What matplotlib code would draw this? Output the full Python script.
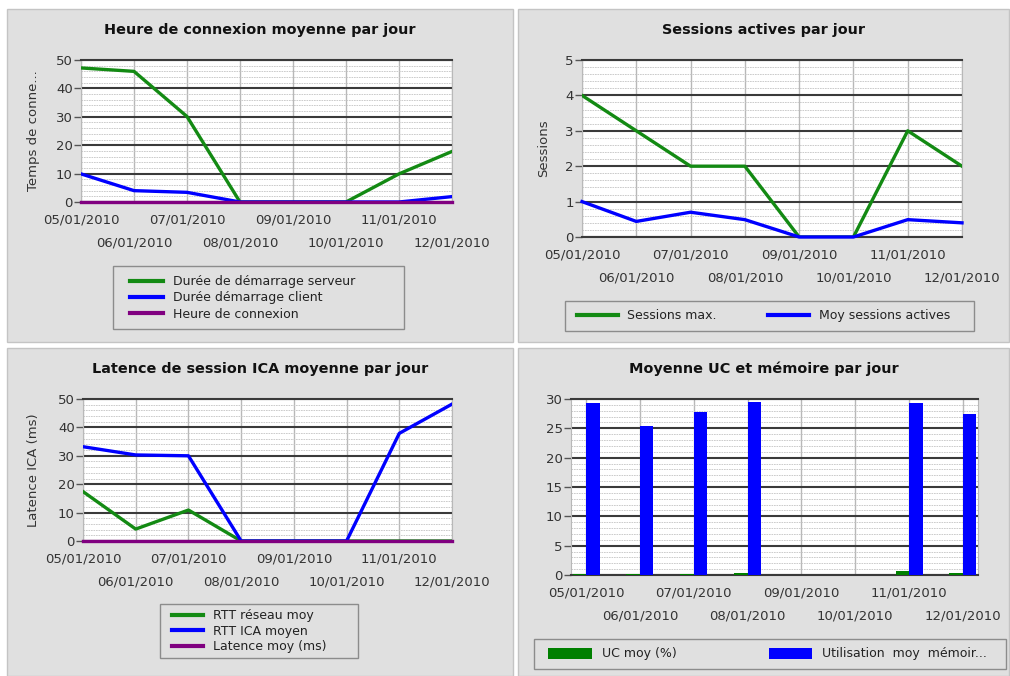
import numpy as np
import matplotlib.pyplot as plt
from matplotlib.patches import Rectangle, Patch
from matplotlib.lines import Line2D
from matplotlib.ticker import MultipleLocator

# %% data

jours = ['05/01/2010', '06/01/2010', '07/01/2010', '08/01/2010',
         '09/01/2010', '10/01/2010', '11/01/2010', '12/01/2010']

# Heure de connexion moyenne par jour
duree_serveur = [47.2, 46.0, 30.1, 0, 0, 0, 9.9, 17.8]
duree_client = [9.9, 4.0, 3.4, 0, 0, 0, 0, 1.9]
heure_connexion = [0, 0, 0, 0, 0, 0, 0, 0]

# Sessions actives par jour
sessions_max = [4, 3, 2, 2, 0, 0, 3, 2]
sessions_moy = [1.0, 0.44, 0.70, 0.49, 0, 0, 0.49, 0.40]

# Latence de session ICA
rtt_reseau = [17.4, 4.2, 10.9, 0, 0, 0, 0, 0]
rtt_ica = [33.2, 30.3, 30.0, 0, 0, 0, 37.9, 48.2]
latence_moy = [0, 0, 0, 0, 0, 0, 0, 0]

# Moyenne UC et memoire
uc_moy = [0.15, 0.2, 0.15, 0.4, 0, 0, 0.7, 0.4]
memoire_moy = [29.4, 25.4, 27.7, 29.5, 0, 0, 29.4, 27.4]

# %% style

W, H = 1010, 676
VERT = '#138a13'
BLEU = '#0000ff'
VIOLET = '#800080'
FOND = '#e0e0e0'
TEXTE = '#333333'

plt.rcParams['font.family'] = 'DejaVu Sans'

fig = plt.figure(figsize=(W / 100, H / 100), dpi=100, facecolor='white')


def px(x0, y0, x1, y1):
    """pixel box (top-left origin) -> figure rect"""
    return [x0 / W, 1 - y1 / H, (x1 - x0) / W, (y1 - y0) / H]


def rect(x0, y0, x1, y1, **kw):
    r = px(x0, y0, x1, y1)
    fig.add_artist(Rectangle((r[0], r[1]), r[2], r[3], transform=fig.transFigure, **kw))


def panneau(x0, y0, x1, y1, titre):
    rect(x0, y0, x1, y1, facecolor=FOND, edgecolor='#c4c4c4', lw=1, zorder=-10)
    fig.text((x0 + x1) / 2 / W, 1 - (y0 + 21) / H, titre, ha='center', va='center',
             fontsize=10.4, fontweight='bold', color='#111111')


def style_axes(ax, box, ymax, major, minor, ylabel=None, ylabel_x=None, xlim=(0, 7)):
    x = np.arange(len(jours))
    ax.set_facecolor('white')
    ax.set_xlim(*xlim)
    ax.set_ylim(0, ymax)
    ax.set_xticks(x[::2])
    ax.set_xticklabels(jours[::2])
    ax.set_xticks(x[1::2], minor=True)
    ax.set_xticklabels(jours[1::2], minor=True)
    ax.tick_params(axis='x', which='major', length=0, pad=8, labelsize=9.5, labelcolor=TEXTE)
    ax.tick_params(axis='x', which='minor', length=0, pad=25, labelsize=9.5, labelcolor=TEXTE)
    ax.yaxis.set_major_locator(MultipleLocator(major))
    ax.yaxis.set_minor_locator(MultipleLocator(minor))
    ax.tick_params(axis='y', which='major', length=5, width=1, color='#555555', pad=1,
                   labelsize=9.5, labelcolor=TEXTE)
    ax.tick_params(axis='y', which='minor', length=0)
    ax.grid(axis='x', which='both', color='#b8b8b8', lw=1)
    ax.grid(axis='y', which='minor', color='#c4c4c4', lw=0.6, ls=(0, (2, 1)))
    ax.grid(axis='y', which='major', color='#3a3a3a', lw=1.5)
    ax.set_axisbelow(True)
    for s in ['left', 'right']:
        ax.spines[s].set_color('#b8b8b8')
    for s in ['top', 'bottom']:
        ax.spines[s].set_color('#3a3a3a')
        ax.spines[s].set_linewidth(1.5)
    if ylabel:
        ax.set_ylabel(ylabel, fontsize=9.5, color=TEXTE)
        ax.yaxis.set_label_coords((ylabel_x - box[0]) / (box[2] - box[0]), 0.5)


def legende(handles, labels, x0, y, **kw):
    # one legend column, its handles starting at pixel x0, centred on pixel row y
    leg = fig.legend(handles, labels, loc='center left', bbox_to_anchor=(x0 / W, 1 - y / H),
                     frameon=False, borderpad=0, borderaxespad=0, fontsize=9, **kw)
    for t in leg.get_texts():
        t.set_color('#222222')
    return leg


def lignes(couleurs):
    return [Line2D([], [], color=c, lw=3) for c in couleurs]


x = np.arange(len(jours))

# %% panneaux

panneau(7, 9, 513, 342, 'Heure de connexion moyenne par jour')
panneau(518, 9, 1009, 342, 'Sessions actives par jour')
panneau(7, 348, 513, 676, 'Latence de session ICA moyenne par jour')
panneau(518, 348, 1009, 676, 'Moyenne UC et mémoire par jour')

# %% Heure de connexion

box = (81, 60, 452, 202)
ax1 = fig.add_axes(px(*box))
ax1.plot(x, duree_serveur, color=VERT, lw=2.4, zorder=3)
ax1.plot(x, duree_client, color=BLEU, lw=2.4, zorder=4)
ax1.plot(x, heure_connexion, color=VIOLET, lw=2.4, zorder=5, clip_on=False)
style_axes(ax1, box, 50, 10, 2, 'Temps de conne...', 40)
rect(113, 266, 404, 329, facecolor='none', edgecolor='#8c8c8c', lw=1)
legende(lignes([VERT, BLEU, VIOLET]),
        ['Durée de démarrage serveur', 'Durée démarrage client', 'Heure de connexion'],
        130, 298, handlelength=2.64, handletextpad=0.8, labelspacing=0.25)

# %% Sessions actives

box = (582, 60, 962, 237)
ax2 = fig.add_axes(px(*box))
ax2.plot(x, sessions_max, color=VERT, lw=2.4, zorder=3)
ax2.plot(x, sessions_moy, color=BLEU, lw=2.4, zorder=4, clip_on=False)
style_axes(ax2, box, 5, 1, 0.2, 'Sessions', 550)
rect(565, 301, 974, 331, facecolor='none', edgecolor='#8c8c8c', lw=1)
legende(lignes([VERT]), ['Sessions max.'], 577, 316, handlelength=3.3, handletextpad=0.72)
legende(lignes([BLEU]), ['Moy sessions actives'], 768, 316, handlelength=3.3,
        handletextpad=0.75)

# %% Latence ICA

box = (83, 399, 452, 541)
ax3 = fig.add_axes(px(*box))
ax3.plot(x, rtt_reseau, color=VERT, lw=2.4, zorder=3)
ax3.plot(x, rtt_ica, color=BLEU, lw=2.4, zorder=4)
ax3.plot(x, latence_moy, color=VIOLET, lw=2.4, zorder=5, clip_on=False)
style_axes(ax3, box, 50, 10, 2, 'Latence ICA (ms)', 40)
rect(160, 604, 358, 658, facecolor='none', edgecolor='#8c8c8c', lw=1)
legende(lignes([VERT, BLEU, VIOLET]),
        ['RTT réseau moy', 'RTT ICA moyen', 'Latence moy (ms)'],
        172, 631, handlelength=2.5, handletextpad=0.75, labelspacing=0.2)

# %% UC et memoire

box = (571, 399, 978, 575)
ax4 = fig.add_axes(px(*box))
w = 0.25
ax4.bar(x - w / 2, uc_moy, width=w, color='#008000', zorder=3)
ax4.bar(x + w / 2, memoire_moy, width=w, color=BLEU, zorder=3)
style_axes(ax4, box, 30, 5, 1, xlim=(-0.28, 7.28))
rect(534, 639, 1006, 669, facecolor='none', edgecolor='#8c8c8c', lw=1)
legende([Patch(facecolor='#008000')], ['UC moy (%)'], 548, 654,
        handlelength=3.5, handleheight=0.95, handletextpad=0.8)
legende([Patch(facecolor=BLEU)], ['Utilisation  moy  mémoir...'], 769, 654,
        handlelength=3.45, handleheight=0.95, handletextpad=0.8)

fig.savefig('out.png', dpi=100, facecolor='white')
